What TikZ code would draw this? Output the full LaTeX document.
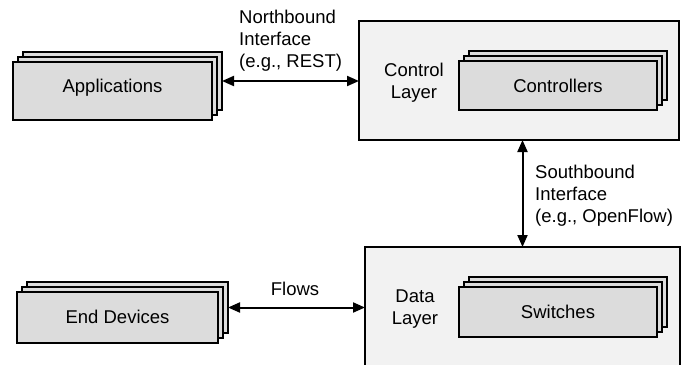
\documentclass[tikz,border=0pt]{standalone}
\usepackage{fontspec}
\setmainfont{Liberation Sans}
\usetikzlibrary{arrows.meta}
\definecolor{stackfill}{HTML}{DCDCDC}
\definecolor{layerfill}{HTML}{F2F2F2}
\begin{document}
\begin{tikzpicture}[x=1pt,y=-1pt,
  stackbox/.style={draw=black,line width=1.6pt,fill=stackfill,inner sep=0pt,outer sep=0pt},
  layerbox/.style={draw=black,line width=1.6pt,fill=layerfill,inner sep=0pt,outer sep=0pt},
  txt/.style={font=\fontsize{18.5}{22}\selectfont,inner sep=0pt},
  arr/.style={line width=2pt,{Triangle[length=12pt,width=10pt]}-{Triangle[length=12pt,width=10pt]}}]
\useasboundingbox (0,0) rectangle (685,364);
% layers
\node[layerbox,minimum width=320pt,minimum height=119pt] (ctl) at (519,80.5) {};
\node[layerbox,minimum width=315pt,minimum height=123pt] (data) at (522.5,308.5) {};
% applications stack
\node[stackbox,minimum width=199pt,minimum height=58pt] (appback) at (122.5,81) {};
\node[stackbox,minimum width=199pt,minimum height=58pt] (appmid) at (117.5,86) {};
\node[stackbox,minimum width=199pt,minimum height=58pt] (appfront) at (112.5,91) {};
\node[txt,anchor=base] (applbl) at (112.5,92) {Applications};
% controllers stack
\node[stackbox,minimum width=198pt,minimum height=49pt] (ctrlback) at (568,75.5) {};
\node[stackbox,minimum width=198pt,minimum height=49pt] (ctrlmid) at (563,80.5) {};
\node[stackbox,minimum width=198pt,minimum height=49pt] (ctrlfront) at (558,85.5) {};
\node[txt,anchor=base] (ctrllbl) at (558,92) {Controllers};
% switches stack
\node[stackbox,minimum width=198pt,minimum height=50pt] (swback) at (568,302) {};
\node[stackbox,minimum width=198pt,minimum height=50pt] (swmid) at (563,307) {};
\node[stackbox,minimum width=198pt,minimum height=50pt] (swfront) at (558,312) {};
\node[txt,anchor=base] (swlbl) at (558,318) {Switches};
% end devices stack
\node[stackbox,minimum width=201pt,minimum height=51pt] (edback) at (127.5,307.5) {};
\node[stackbox,minimum width=201pt,minimum height=51pt] (edmid) at (122.5,312.5) {};
\node[stackbox,minimum width=201pt,minimum height=51pt] (edfront) at (117.5,317.5) {};
\node[txt,anchor=base] (edlbl) at (117.5,323) {End Devices};
% layer labels
\node[txt,align=center,anchor=base] (ctllbl) at (414,98) {Control\\Layer};
\node[txt,align=center,anchor=base] (datalbl) at (415,324) {Data\\Layer};
% arrows
\draw[arr] (appback.east) -- (ctl.west |- appback.east);
\draw[arr] (data.north |- ctl.south) -- (data.north);
\draw[arr] (edback.east) -- (data.west |- edback.east);
% interface labels
\node[txt,align=left,anchor=base west] (nblbl) at (239,67) {Northbound\\Interface\\(e.g., REST)};
\node[txt,align=left,anchor=base west] (sblbl) at (535,222) {Southbound\\Interface\\(e.g., OpenFlow)};
\node[txt,anchor=base] (flowlbl) at (295,295) {Flows};
\end{tikzpicture}
\end{document}
